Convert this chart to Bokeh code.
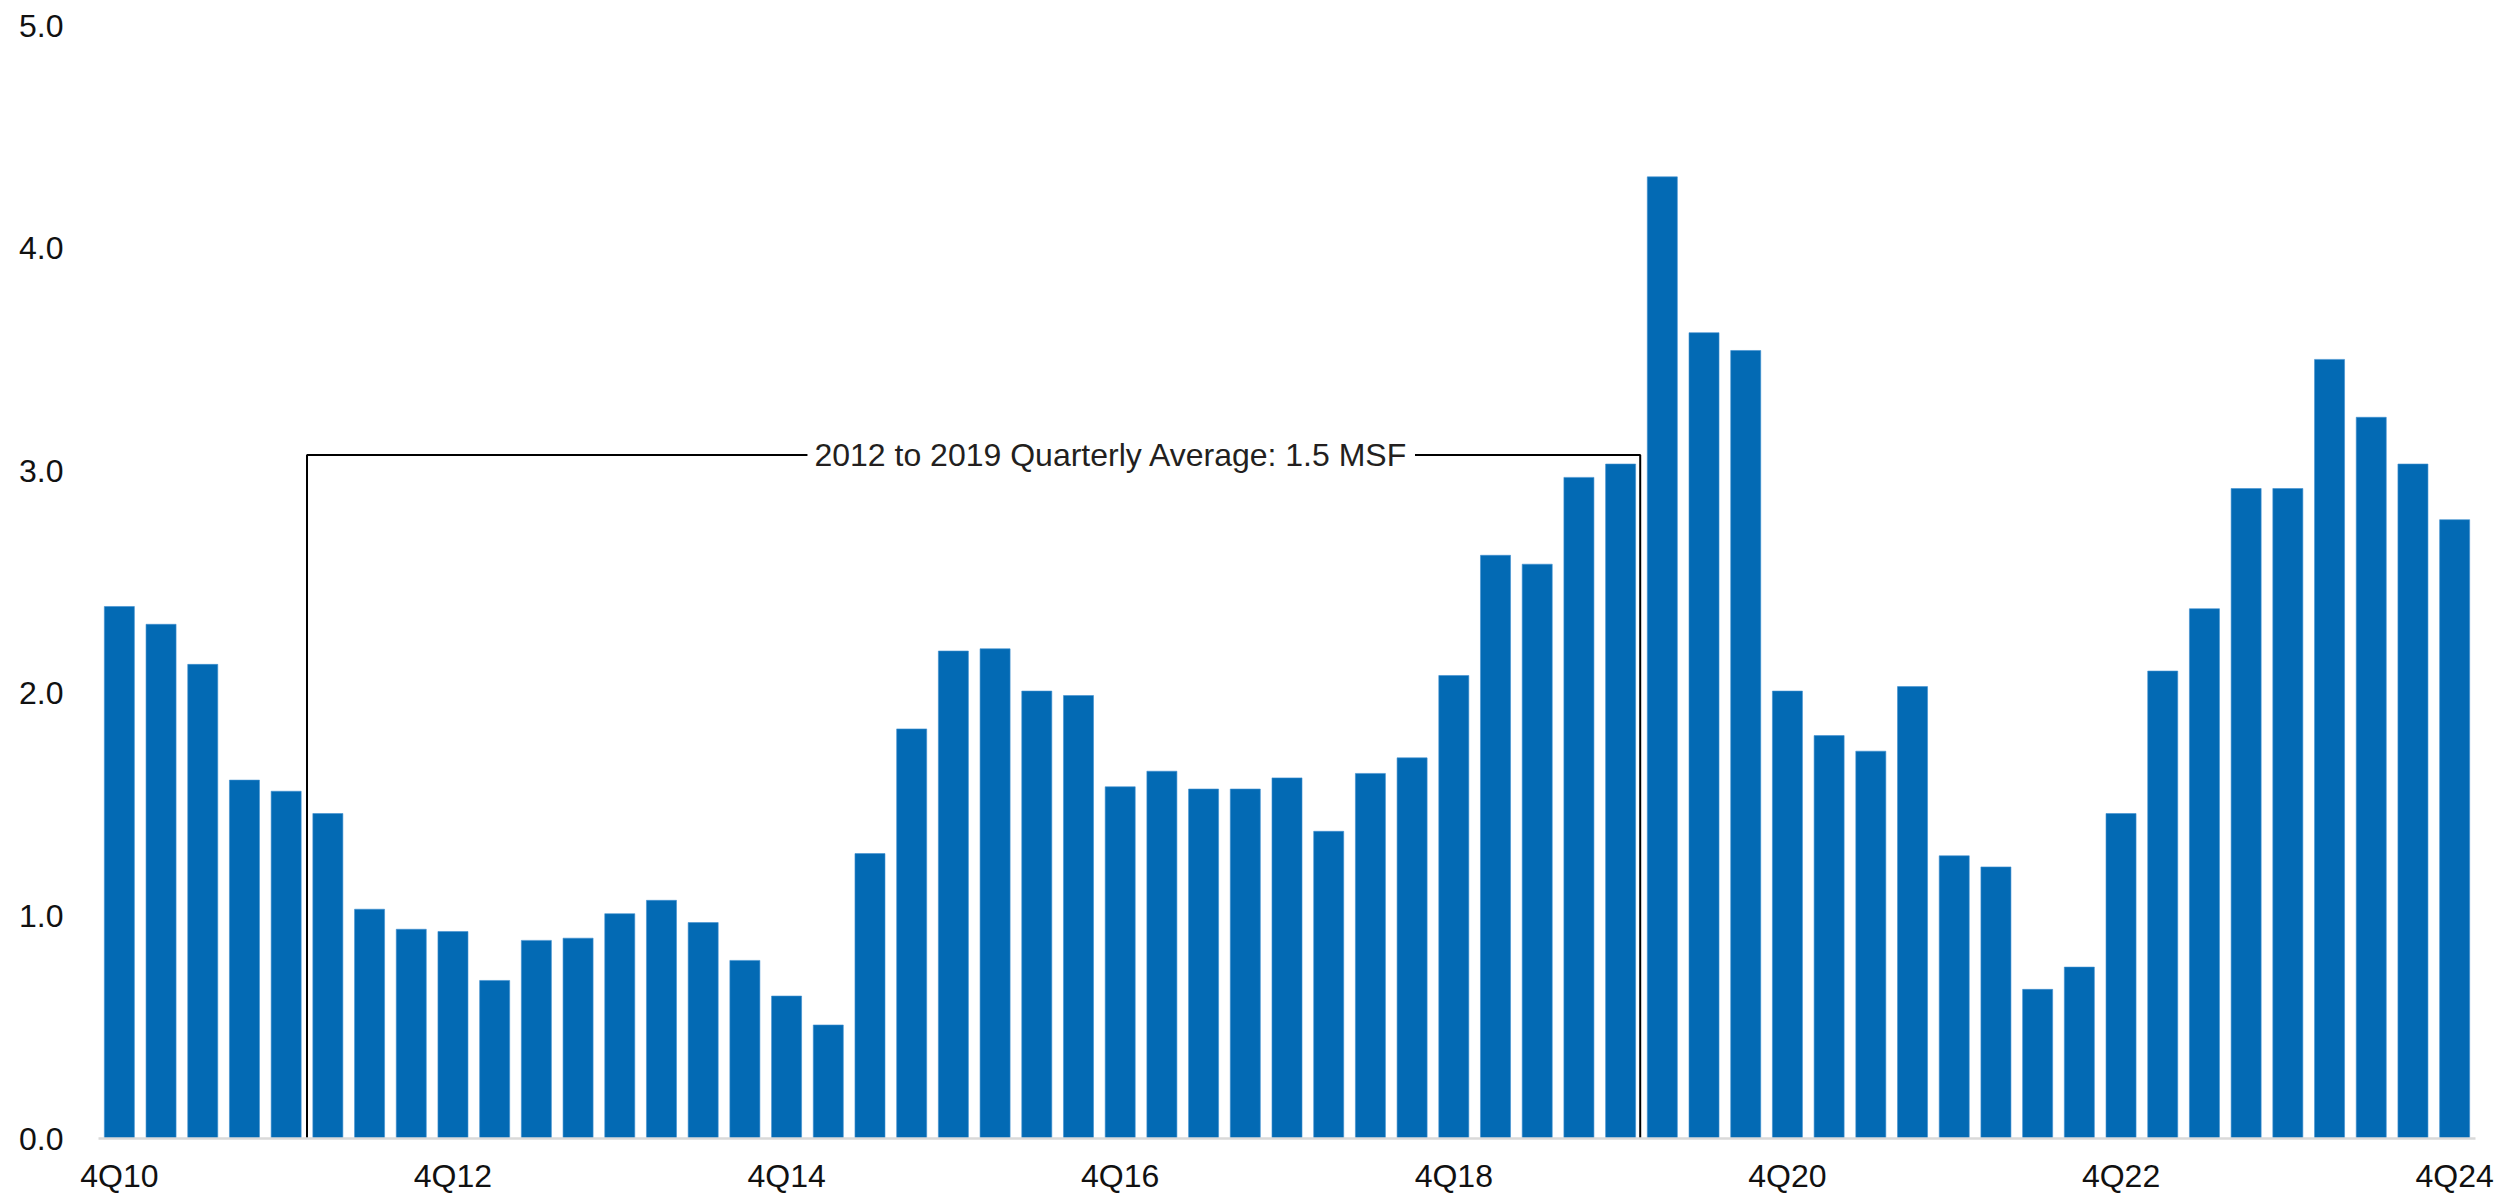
from bokeh.plotting import figure
from bokeh.models import Range1d, FixedTicker, NumeralTickFormatter, Label, ColumnDataSource
from bokeh.embed import file_html
from bokeh.resources import INLINE

quarters = [
    "4Q10",
    "1Q11", "2Q11", "3Q11", "4Q11",
    "1Q12", "2Q12", "3Q12", "4Q12",
    "1Q13", "2Q13", "3Q13", "4Q13",
    "1Q14", "2Q14", "3Q14", "4Q14",
    "1Q15", "2Q15", "3Q15", "4Q15",
    "1Q16", "2Q16", "3Q16", "4Q16",
    "1Q17", "2Q17", "3Q17", "4Q17",
    "1Q18", "2Q18", "3Q18", "4Q18",
    "1Q19", "2Q19", "3Q19", "4Q19",
    "1Q20", "2Q20", "3Q20", "4Q20",
    "1Q21", "2Q21", "3Q21", "4Q21",
    "1Q22", "2Q22", "3Q22", "4Q22",
    "1Q23", "2Q23", "3Q23", "4Q23",
    "1Q24", "2Q24", "3Q24", "4Q24",
]

values = [
    2.39,
    2.31, 2.13, 1.61, 1.56,
    1.46, 1.03, 0.94, 0.93,
    0.71, 0.89, 0.90, 1.01,
    1.07, 0.97, 0.80, 0.64,
    0.51, 1.28, 1.84, 2.19,
    2.20, 2.01, 1.99, 1.58,
    1.65, 1.57, 1.57, 1.62,
    1.38, 1.64, 1.71, 2.08,
    2.62, 2.58, 2.97, 3.03,
    4.32, 3.62, 3.54, 2.01,
    1.81, 1.74, 2.03, 1.27,
    1.22, 0.67, 0.77, 1.46,
    2.10, 2.38, 2.92, 2.92,
    3.50, 3.24, 3.03, 2.78,
]

tick_labels = ["4Q10", "4Q12", "4Q14", "4Q16", "4Q18", "4Q20", "4Q22", "4Q24"]
y_ticks = [0, 1, 2, 3, 4, 5]

avg_text = "2012 to 2019 Quarterly Average: 1.5 MSF"
avg_first_quarter = "1Q12"
avg_last_quarter = "4Q19"
bracket_level = 3.07

FONT = "Liberation Sans"
BAR_COLOR = "#036ab4"

idx = list(range(len(quarters)))
src = ColumnDataSource(dict(x=idx, top=values, q=quarters))

p = figure(
    width=2514, height=1196,
    output_backend="svg", toolbar_location=None,
    x_range=Range1d(-0.5, len(quarters) - 0.5),
    y_range=Range1d(0, 5),
    min_border_left=98, min_border_right=39,
    min_border_top=25, min_border_bottom=52,
)
p.background_fill_color = "white"
p.border_fill_color = "white"
p.outline_line_color = None
p.xgrid.grid_line_color = None
p.ygrid.grid_line_color = None

p.vbar(x="x", top="top", width=0.72, source=src,
       fill_color=BAR_COLOR, line_color="#3f8fd0", line_width=1, line_alpha=0.6)

# x axis
tick_pos = [quarters.index(t) for t in tick_labels]
p.xaxis.ticker = FixedTicker(ticks=tick_pos)
p.xaxis.major_label_overrides = {i: t for i, t in zip(tick_pos, tick_labels)}
p.xaxis.major_tick_line_color = None
p.xaxis.minor_tick_line_color = None
p.xaxis.axis_line_color = "#d9d9d9"
p.xaxis.axis_line_width = 2.5
p.xaxis.major_label_text_font = FONT
p.xaxis.major_label_text_font_size = "32px"
p.xaxis.major_label_text_color = "#111111"
p.xaxis.major_label_standoff = 13

# y axis
p.yaxis.ticker = FixedTicker(ticks=y_ticks)
p.yaxis.formatter = NumeralTickFormatter(format="0.0")
p.yaxis.major_tick_line_color = None
p.yaxis.minor_tick_line_color = None
p.yaxis.axis_line_color = None
p.yaxis.major_label_text_font = FONT
p.yaxis.major_label_text_font_size = "32px"
p.yaxis.major_label_text_color = "#111111"
p.yaxis.major_label_standoff = 29

# average bracket annotation
x_left = quarters.index(avg_first_quarter) - 0.5
x_right = quarters.index(avg_last_quarter) + 0.47
p.line(x=[x_left, x_left, x_right, x_right],
       y=[0, bracket_level, bracket_level, 0],
       line_color="black", line_width=2)

lab = Label(
    x=(x_left + x_right) / 2 + 3.3, y=bracket_level,
    text=avg_text, text_font=FONT, text_font_size="32px",
    text_color="#231f20", text_align="center", text_baseline="middle",
    background_fill_color="white", padding=7,
)
p.add_layout(lab)

open("out.html", "w").write(file_html(p, INLINE))
